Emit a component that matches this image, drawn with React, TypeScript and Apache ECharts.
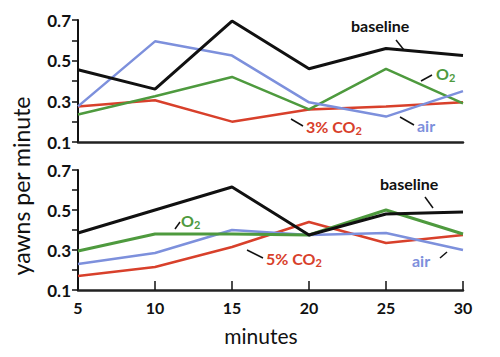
import React, { useEffect, useRef } from "react";
import * as echarts from "echarts";

const minutes = [5, 10, 15, 20, 25, 30];
const yTicks = [0.1, 0.3, 0.5, 0.7];

// top panel: 3% CO2 experiment
const baselineTop = [0.455, 0.36, 0.695, 0.46, 0.56, 0.525];
const airTop = [0.275, 0.595, 0.525, 0.295, 0.225, 0.35];
const o2Top = [0.235, 0.325, 0.42, 0.26, 0.46, 0.29];
const co2Top = [0.275, 0.305, 0.2, 0.26, 0.275, 0.295];

// bottom panel: 5% CO2 experiment
const baselineBot = [0.385, 0.5, 0.615, 0.375, 0.48, 0.49];
const o2Bot = [0.295, 0.38, 0.38, 0.375, 0.5, 0.38];
const airBot = [0.23, 0.285, 0.4, 0.375, 0.385, 0.3];
const co2Bot = [0.17, 0.215, 0.315, 0.44, 0.335, 0.375];

const BLACK = "#111111";
const BLUE = "#7d90dc";
const GREEN = "#4e9a3e";
const RED = "#d8402b";
const FONT = "Lato";

const pts = (vals: number[]) => minutes.map((m, i) => [m, vals[i]]);

const line = (name: string, vals: number[], color: string, idx: number, w = 2.5) => ({
  name,
  type: "line",
  xAxisIndex: idx,
  yAxisIndex: idx,
  data: pts(vals),
  symbol: "none",
  lineStyle: { color, width: w },
  z: 3,
});

const txt = (x: number, y: number, text: string, color: string, rich?: any) => ({
  type: "text",
  x,
  y,
  style: {
    text,
    fill: color,
    font: `bold 16px ${FONT}`,
    align: "left",
    verticalAlign: "middle",
    rich,
  },
  z: 10,
});

const subRich = (color: string) => ({
  n: { fontSize: 16, fontWeight: "bold", fontFamily: FONT, fill: color, color },
  s: { fontSize: 11, fontWeight: "bold", fontFamily: FONT, color, padding: [9, 0, 0, 0] },
});

const seg = (x1: number, y1: number, x2: number, y2: number) => ({
  type: "line",
  shape: { x1, y1, x2, y2 },
  style: { stroke: BLACK, lineWidth: 1.5 },
  z: 10,
});

export default function App() {
  const ref = useRef<HTMLDivElement>(null);
  useEffect(() => {
    if (!ref.current) return;
    const chart = echarts.init(ref.current, null, { renderer: "svg" });
    const yAxisBase = {
      type: "value",
      min: 0.1,
      max: 0.7,
      interval: 0.1,
      axisLine: { show: true, lineStyle: { color: BLACK, width: 2 } },
      axisTick: { show: true, length: 6, lineStyle: { color: BLACK, width: 1.5 } },
      splitLine: { show: false },
      axisLabel: {
        margin: 7,
        color: BLACK,
        fontSize: 17,
        fontFamily: FONT,
        fontWeight: "bold",
        formatter: (v: number) => {
          const r = Math.round(v * 10) / 10;
          return yTicks.some((t) => Math.abs(t - r) < 1e-6) ? r.toFixed(1) : "";
        },
      },
    };
    const xAxisBase = {
      type: "value",
      min: 5,
      max: 30,
      interval: 5,
      axisLine: { show: true, onZero: false, lineStyle: { color: "#222", width: 2.5 } },
      splitLine: { show: false },
    };
    chart.setOption({
      animation: false,
      grid: [
        { left: 78, top: 20, width: 385, height: 122 },
        { left: 78, top: 170, width: 385, height: 120 },
      ],
      xAxis: [
        { ...xAxisBase, gridIndex: 0, axisTick: { show: false }, axisLabel: { show: false } },
        {
          ...xAxisBase,
          gridIndex: 1,
          axisTick: { show: true, inside: true, length: 9, lineStyle: { color: BLACK, width: 1.5 } },
          axisLabel: { margin: 9, color: BLACK, fontSize: 16, fontFamily: FONT, fontWeight: "bold" },
        },
      ],
      yAxis: [
        { ...yAxisBase, gridIndex: 0 },
        { ...yAxisBase, gridIndex: 1 },
      ],
      series: [
        line("3% CO2", co2Top, RED, 0),
        line("O2", o2Top, GREEN, 0),
        line("air", airTop, BLUE, 0),
        line("baseline", baselineTop, BLACK, 0, 3),
        line("5% CO2", co2Bot, RED, 1),
        line("air", airBot, BLUE, 1),
        line("O2", o2Bot, GREEN, 1, 3),
        line("baseline", baselineBot, BLACK, 1, 3),
      ],
      graphic: [
        // top panel labels
        txt(351, 25, "baseline", BLACK),
        seg(396, 40, 404, 50),
        txt(436, 73, "{n|O}{s|2}", GREEN, subRich(GREEN)),
        seg(421, 81, 432, 75),
        txt(306, 126, "{n|3% CO}{s|2}", RED, subRich(RED)),
        seg(291, 119, 303, 126),
        txt(417, 125, "air", BLUE),
        seg(400, 117, 414, 125),
        // bottom panel labels
        txt(380, 183, "baseline", BLACK),
        seg(425, 197, 433, 208),
        txt(181, 220, "{n|O}{s|2}", GREEN, subRich(GREEN)),
        seg(175, 229, 180, 222),
        txt(266, 258, "{n|5% CO}{s|2}", RED, subRich(RED)),
        seg(247, 250, 263, 258),
        txt(412, 260, "air", BLUE),
        seg(440, 258, 447, 252),
        // axis names
        {
          type: "text",
          x: 21,
          y: 186,
          rotation: Math.PI / 2,
          style: {
            text: "yawns per minute",
            fill: BLACK,
            font: `23px ${FONT}`,
            align: "center",
            verticalAlign: "middle",
          },
        },
        {
          type: "text",
          x: 261,
          y: 335,
          style: {
            text: "minutes",
            fill: BLACK,
            font: `21px ${FONT}`,
            align: "center",
            verticalAlign: "middle",
          },
        },
      ],
    });
    return () => chart.dispose();
  }, []);
  return <div ref={ref} style={{ width: 500, height: 357, position: "absolute", left: 0, top: 0, background: "#fff" }} />;
}
